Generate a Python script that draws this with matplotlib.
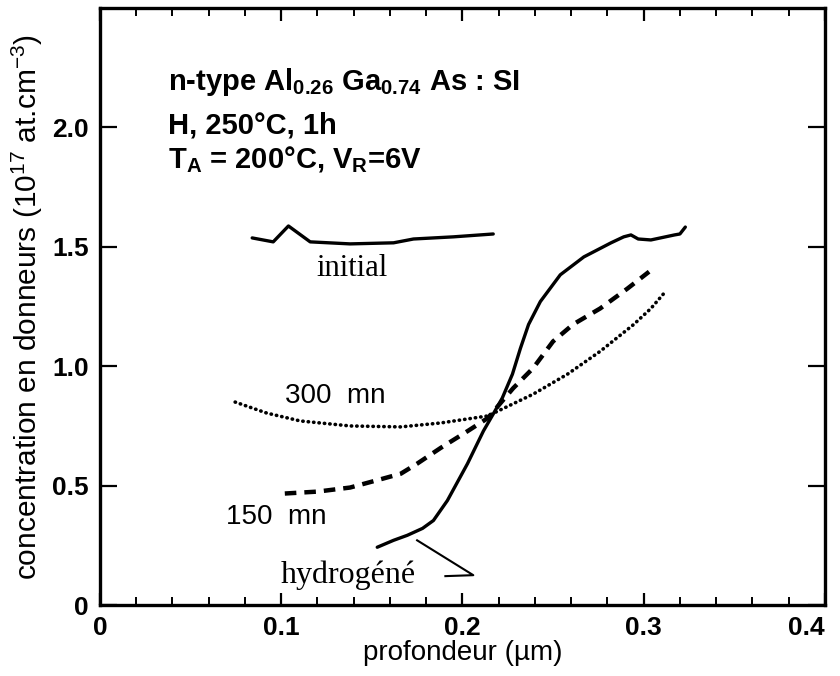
import matplotlib
matplotlib.use("Agg")
import matplotlib.pyplot as plt
from matplotlib.ticker import MultipleLocator

plt.rcParams['font.family'] = ['Liberation Sans', 'DejaVu Sans']
plt.rcParams['mathtext.fontset'] = 'custom'
plt.rcParams['mathtext.rm'] = 'Liberation Sans'
plt.rcParams['mathtext.bf'] = 'Liberation Sans:bold'
plt.rcParams['mathtext.it'] = 'Liberation Sans:italic'

# initial profile (solid, before hydrogenation)
x_initial = [0.084, 0.0956, 0.104, 0.116, 0.138, 0.162, 0.173, 0.195, 0.217]
y_initial = [1.5375, 1.521, 1.5875, 1.521, 1.5125, 1.517, 1.533, 1.542, 1.554]

# hydrogenated profile (solid)
x_hydro = [0.153, 0.162, 0.1696, 0.178, 0.184, 0.1917, 0.2028, 0.2116, 0.217, 0.222,
           0.2276, 0.232, 0.2365, 0.243, 0.254, 0.267, 0.282, 0.289, 0.293, 0.297,
           0.304, 0.317, 0.320, 0.323]
y_hydro = [0.242, 0.271, 0.292, 0.321, 0.354, 0.4375, 0.592, 0.729, 0.80, 0.867,
           0.967, 1.075, 1.175, 1.271, 1.383, 1.458, 1.517, 1.542, 1.55, 1.533,
           1.529, 1.55, 1.554, 1.583]

# 150 mn annealing (dashed)
x_150 = [0.102, 0.12, 0.138, 0.156, 0.166, 0.175, 0.188, 0.203, 0.214, 0.228,
         0.239, 0.25, 0.261, 0.276, 0.291, 0.303]
y_150 = [0.467, 0.475, 0.492, 0.529, 0.55, 0.592, 0.658, 0.729, 0.783, 0.908,
         0.992, 1.104, 1.175, 1.242, 1.325, 1.396]

# 300 mn annealing (dotted)
x_300 = [0.0746, 0.092, 0.1105, 0.138, 0.166, 0.188, 0.214, 0.239, 0.258, 0.276,
         0.2945, 0.304, 0.312]
y_300 = [0.85, 0.804, 0.771, 0.75, 0.746, 0.7625, 0.792, 0.883, 0.967, 1.0625,
         1.175, 1.242, 1.3125]

# pointer from "hydrogéné" label to the curve
x_pointer = [0.175, 0.206, 0.1906]
y_pointer = [0.271, 0.125, 0.121]

x_ticks = [0, 0.1, 0.2, 0.3, 0.4]
x_ticklabels = ['0', '0.1', '0.2', '0.3', '0.4']
y_ticks = [0, 0.5, 1.0, 1.5, 2.0]
y_ticklabels = ['0', '0.5', '1.0', '1.5', '2.0']

fig = plt.figure(figsize=(8.4, 6.76), dpi=100)
ax = fig.add_axes([0.119, 0.105, 0.863, 0.883])

ax.plot(x_initial, y_initial, color='black', lw=2.4, solid_capstyle='round')
ax.plot(x_hydro, y_hydro, color='black', lw=2.4, solid_capstyle='round')
ax.plot(x_150, y_150, color='black', lw=3.2, linestyle=(0, (2.6, 1.8)))
ax.plot(x_300, y_300, color='black', lw=2.6, linestyle=(0, (0.1, 1.4)),
        dash_capstyle='round')
ax.plot(x_pointer, y_pointer, color='black', lw=1.5)

ax.set_xlim(0, 0.4)
ax.set_ylim(0, 2.5)
ax.set_xticks(x_ticks)
ax.set_xticklabels(x_ticklabels)
ax.xaxis.set_minor_locator(MultipleLocator(0.02))
ax.set_yticks(y_ticks)
ax.set_yticklabels(y_ticklabels)

ax.tick_params(axis='x', which='major', direction='in', top=True, length=9, width=1.6,
               labelsize=19, pad=8)
ax.tick_params(axis='x', which='minor', direction='in', top=True, length=6, width=1.4)
ax.tick_params(axis='y', which='major', direction='in', right=True, length=12, width=1.6,
               labelsize=19, pad=8)
for lab in ax.get_xticklabels() + ax.get_yticklabels():
    lab.set_fontweight('bold')
ax.get_xticklabels()[-1].set_ha('right')  # keep "0.4" inside the figure
for sp in ax.spines.values():
    sp.set_linewidth(2.4)

ax.set_xlabel('profondeur (\u00b5m)', fontsize=20, labelpad=0)
ax.set_ylabel(r'concentration en donneurs (10$^{17}$ at.cm$^{-3}$)', fontsize=21.5,
              labelpad=5)

title_lines = [
    r'n-type Al$_{\mathbf{0.26}}$ Ga$_{\mathbf{0.74}}$ As : SI',
    r'H, 250°C, 1h',
    r'T$_{\mathbf{A}}$ = 200°C, V$_{\mathbf{R}}$=6V',
]
title_y = [2.158, 1.975, 1.829]
for line, yy in zip(title_lines, title_y):
    ax.text(0.0376, yy, line, fontsize=21, fontweight='bold', ha='left', va='baseline')

ax.text(0.139, 1.41, 'initial', family='Liberation Serif', fontsize=22,
        ha='center', va='center')
ax.text(0.130, 0.875, '300  mn', fontsize=20, ha='center', va='center')
ax.text(0.097, 0.367, '150  mn', fontsize=20, ha='center', va='center')
ax.text(0.137, 0.125, 'hydrogéné', family='Liberation Serif', fontsize=23,
        ha='center', va='center')

fig.savefig('out.png', dpi=100)
